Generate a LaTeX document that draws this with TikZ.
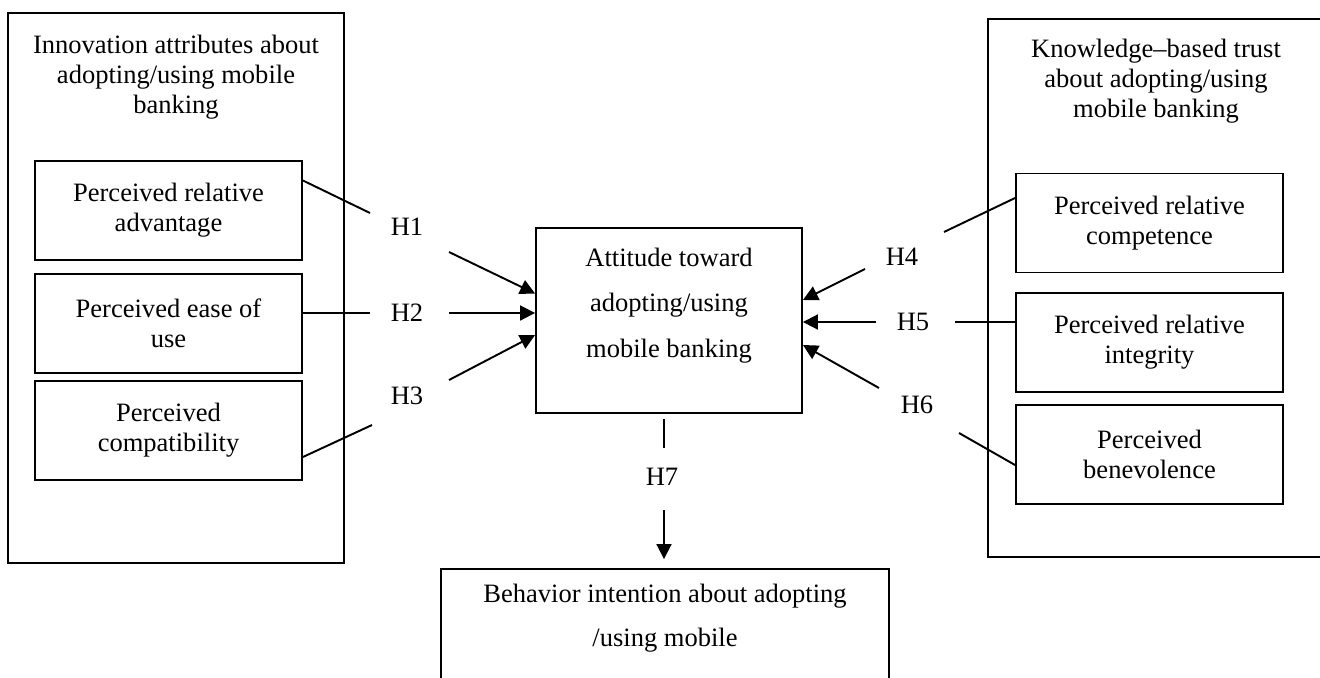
\documentclass[tikz,border=0pt]{standalone}
\usepackage{fontspec}
\setmainfont{Liberation Serif}
\usetikzlibrary{arrows.meta,calc}
\def\boxw{5.34cm}
\def\boxh{1.98cm}

\begin{document}
\begin{tikzpicture}[x=0.02cm,y=-0.02cm,line width=1.1pt,>={Triangle[length=8.5pt,width=8.5pt]},
    font=\fontsize{15.1}{17}\selectfont]
    \tikzstyle{frame}=[draw,rectangle,inner sep=0pt]
    \tikzstyle{factor}=[frame,minimum width=\boxw,minimum height=\boxh,align=center]
    \tikzstyle{title}=[align=center,inner sep=0pt,anchor=north]
    \tikzstyle{hyp}=[inner sep=1pt]

    \useasboundingbox (0,0) rectangle (1320,677);
    \clip (0,0) rectangle (1320,677);

    % Draw the two outer groups
    \node[frame,minimum width=6.72cm,minimum height=11cm] (innov) at (176,288) {};
    \node[title] (innov-t) at (176,34) {Innovation attributes about\\adopting/using mobile\\banking};
    \node[frame,minimum width=6.84cm,minimum height=10.76cm] (trust) at (1159,288) {};
    \node[title] (trust-t) at (1156,38) {Knowledge–based trust\\about adopting/using\\mobile banking};

    % Draw the factor boxes
    \node[factor] (A-1) at (168.5,210.5) {Perceived relative\\advantage};
    \node[factor] (A-2) at (168.5,323.5) {Perceived ease of\\use};
    \node[factor] (A-3) at (168.5,430.5) {Perceived\\compatibility};
    \node[factor] (B-1) at (1149.5,223) {Perceived relative\\competence};
    \node[factor] (B-2) at (1149.5,342.5) {Perceived relative\\integrity};
    \node[factor] (B-3) at (1149.5,454.5) {Perceived\\benevolence};

    % Attitude and intention
    \node[frame,minimum width=5.32cm,minimum height=3.7cm] (att) at (669,320.5) {};
    \node[align=center,inner sep=0pt,font=\fontsize{15.1}{26}\selectfont] (att-t) at (669,305.5)
        {Attitude toward\\adopting/using\\mobile banking};
    \node[frame,minimum width=8.96cm,minimum height=3.02cm] (bi) at (665,644.5) {};
    \node[align=center,inner sep=0pt,font=\fontsize{15.1}{25}\selectfont] (bi-t) at (665,618)
        {Behavior intention about adopting\\/using mobile};

    % Hypotheses
    \node[hyp] (H1) at (407,227) {H1};
    \node[hyp] (H2) at (407,313) {H2};
    \node[hyp] (H3) at (407,396) {H3};
    \node[hyp] (H4) at (902,257) {H4};
    \node[hyp] (H5) at (913,322) {H5};
    \node[hyp] (H6) at (917,405) {H6};
    \node[hyp] (H7) at (662,477) {H7};

    % Connect the factors with the attitude
    \draw ($(A-1.east)+(0,-30)$) -- ($(H1)+(-37,-14)$);
    \draw[->] ($(H1)+(42,25)$) -- ($(att.west)+(0,-27)$);
    \draw (A-2.east |- H2) -- ($(H2)+(-37,0)$);
    \draw[->] ($(H2)+(42,0)$) -- (att.west |- H2);
    \draw ($(A-3.east)+(0,26.5)$) -- ($(H3)+(-35,29)$);
    \draw[->] ($(H3)+(42,-16)$) -- ($(att.west)+(0,14.5)$);

    \draw ($(B-1.west)+(0,-25)$) -- ($(H4)+(42,-25)$);
    \draw[->] ($(H4)+(-37,12)$) -- ($(att.east)+(0,-20.5)$);
    \draw (B-2.west |- H5) -- ($(H5)+(42,0)$);
    \draw[->] ($(H5)+(-37,0)$) -- (att.east |- H5);
    \draw ($(B-3.west)+(0,10.5)$) -- ($(H6)+(42,28)$);
    \draw[->] ($(H6)+(-38,-17)$) -- ($(att.east)+(0,24.5)$);

    % Attitude to intention
    \draw ($(att.south)+(-5,5)$) -- ($(H7)+(2,-29)$);
    \draw[->] ($(H7)+(2,33)$) -- ($(bi.north)+(-1,-9)$);
\end{tikzpicture}
\end{document}
